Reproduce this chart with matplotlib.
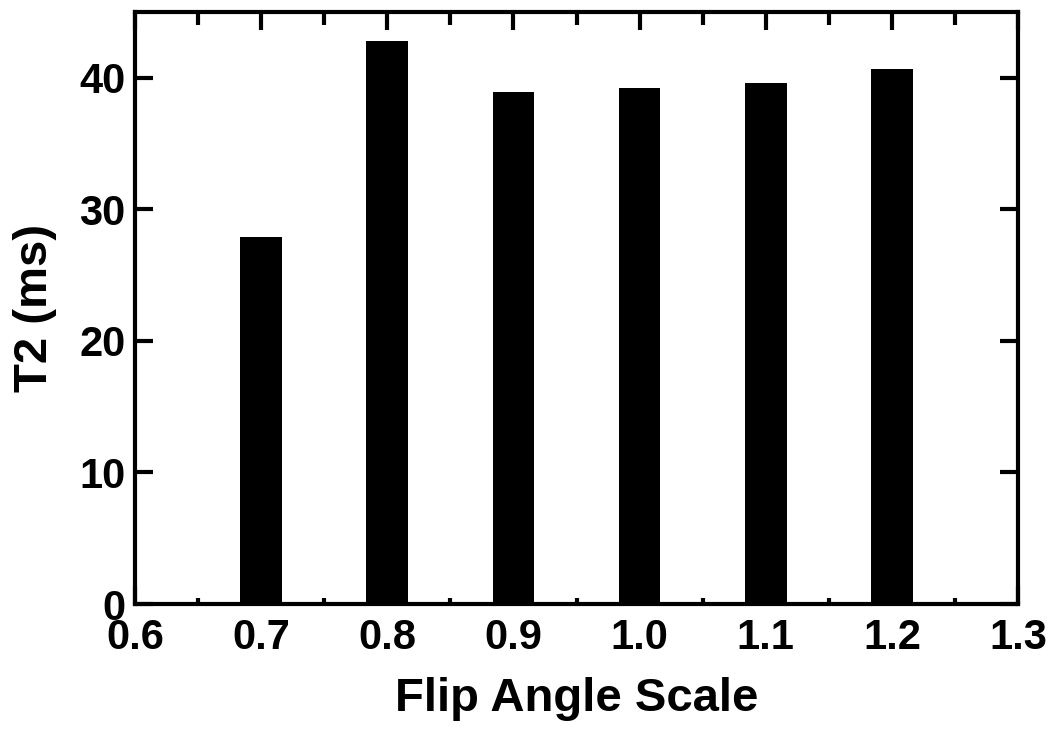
import matplotlib
matplotlib.use("Agg")
import matplotlib.pyplot as plt
from matplotlib.ticker import MultipleLocator, FormatStrFormatter

flip_scale = [0.7, 0.8, 0.9, 1.0, 1.1, 1.2]
t2_ms = [27.9, 42.8, 38.9, 39.2, 39.6, 40.7]

plt.rcParams['font.family'] = ['Liberation Sans', 'DejaVu Sans']
plt.rcParams['font.weight'] = 'bold'

fig = plt.figure(figsize=(10.58, 7.34), dpi=100)
ax = fig.add_axes([0.1276, 0.1771, 0.9622 - 0.1276, 0.9837 - 0.1771])

ax.bar(flip_scale, t2_ms, width=0.033, color='black', zorder=3)

ax.set_xlim(0.6, 1.3)
ax.set_ylim(0, 45)
ax.xaxis.set_major_locator(MultipleLocator(0.1))
ax.xaxis.set_minor_locator(MultipleLocator(0.05))
ax.xaxis.set_major_formatter(FormatStrFormatter('%.1f'))
ax.yaxis.set_major_locator(MultipleLocator(10))

for s in ax.spines.values():
    s.set_linewidth(3)
    s.set_zorder(4)

ax.tick_params(which='major', direction='in', top=True, right=True,
               length=13, width=3, labelsize=30, pad=7)
ax.tick_params(axis='x', which='major', pad=10)
ax.tick_params(which='minor', direction='in', top=True, right=False, left=False,
               length=9, width=3)

# bottom minor ticks are shorter than the top ones
for t in ax.xaxis.get_minor_ticks():
    t.tick1line.set_markersize(4)

ax.set_xlabel('Flip Angle Scale', fontsize=34, fontweight='bold', labelpad=14)
ax.set_ylabel('T2 (ms)', fontsize=34, fontweight='bold', labelpad=16)

fig.savefig('out.png', dpi=100)
